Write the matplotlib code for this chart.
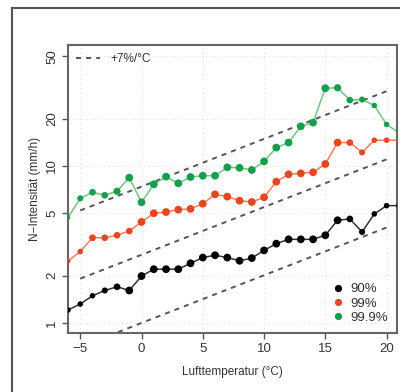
import numpy as np
import matplotlib
matplotlib.use("Agg")
from matplotlib import pyplot as plt
from matplotlib import ticker
from matplotlib.lines import Line2D
from matplotlib.patches import Rectangle

plt.rcParams['font.family'] = ['Liberation Sans', 'DejaVu Sans']

# Data
temp = list(range(-6, 22))
p90 = [1.21, 1.32, 1.49, 1.61, 1.70, 1.61, 1.99, 2.20, 2.20, 2.20, 2.40, 2.61, 2.70, 2.61,
       2.49, 2.59, 2.90, 3.20, 3.41, 3.41, 3.41, 3.62, 4.51, 4.60, 3.80, 4.95, 5.59, 5.59]
p99 = [2.48, 2.85, 3.49, 3.49, 3.62, 3.85, 4.40, 5.00, 5.09, 5.27, 5.33, 5.75, 6.60, 6.38,
       6.01, 5.90, 6.32, 7.94, 8.85, 8.98, 9.12, 10.3, 14.1, 14.1, 12.2, 14.6, 14.6, 14.6]
p999 = [4.69, 6.22, 6.80, 6.51, 6.90, 8.43, 5.87, 7.64, 8.55, 7.76, 8.51, 8.67, 8.67, 9.81,
        9.74, 9.43, 10.7, 13.1, 14.1, 17.9, 18.9, 31.3, 31.5, 26.3, 26.5, 24.3, 18.4, 16.3]
series_labels = ["90%", "99%", "99.9%"]

# Reference lines: +7%/°C, exp(0.07*T + k)
ref_t = [-5, 20]
ref_offsets = [0, 1, 2]
ref_rate = 0.07

yticks = [1, 2, 5, 10, 20, 50]
xticks = [-5, 0, 5, 10, 15, 20]

# Styles
mcol = ["#000000", "#e8461e", "#12a04a"]
lcol = ["#333333", "#f0805a", "#72c482"]
# marker sizes per point (small at the ends)
ms90 = [5, 5, 5, 5.5, 6] + [7] * 18 + [6, 5.5, 5, 5, 5]
ms99 = [4.5, 5, 6, 6, 6, 6] + [7] * 17 + [6, 5.5, 5, 5, 5]
ms999 = [4, 5.5, 6, 6, 6.5] + [7] * 17 + [6.5, 6, 5.5, 5, 5, 4.5]
mscale = 0.8

fig = plt.figure(figsize=(4.0, 3.92), dpi=100)
fig.patches.append(Rectangle((12/400, -0.1), 1.2, 1.1 - 8/392, transform=fig.transFigure,
                             fill=False, edgecolor="#555555", lw=1.5, zorder=0))
ax = fig.add_axes([68/400, 1 - 333/392, (397-68)/400, (333-45)/392])
ax.set_yscale("log")

# grid
for xt in xticks:
    ax.axvline(xt, color="#dddddd", lw=0.8, ls=(0, (1, 3)), zorder=0)
for yt in yticks:
    ax.axhline(yt, color="#dddddd", lw=0.8, ls=(0, (1, 3)), zorder=0)

# dashed reference lines
rt = np.array(ref_t, dtype=float)
for k in ref_offsets:
    ax.plot(rt, np.exp(ref_rate * rt + k), color="#555555", lw=1.4,
            dashes=(2.6, 2.6), zorder=1)

for vals, ms, mc, lc in zip([p90, p99, p999], [ms90, ms99, ms999], mcol, lcol):
    ax.plot(temp, vals, color=lc, lw=1.1, zorder=2)
    ax.scatter(temp, vals, s=(np.array(ms) * mscale) ** 2, color=mc, zorder=3,
               linewidths=0)

ax.set_xlim(-6, 20.85)
ax.set_ylim(0.863, 59)
ax.yaxis.set_major_locator(ticker.FixedLocator(yticks))
ax.yaxis.set_major_formatter(ticker.FixedFormatter([str(v) for v in yticks]))
ax.yaxis.set_minor_locator(ticker.NullLocator())
ax.set_xticks(xticks)
ax.set_xticklabels(["\u22125", "0", "5", "10", "15", "20"])
for lab in ax.get_yticklabels():
    lab.set_rotation(90)
    lab.set_va("center")
ax.tick_params(axis="both", colors="#555555", labelcolor="#333333", length=4,
               width=1, labelsize=9.5, pad=3)

for sp in ax.spines.values():
    sp.set_color("#666666")
    sp.set_linewidth(1.5)

ax.set_xlabel("Lufttemperatur (°C)", fontsize=8.5, color="#333333", labelpad=8)
ax.set_ylabel("N\u2212Intensität (mm/h)", fontsize=8.5, color="#333333", labelpad=4)

# legends
h1 = [Line2D([], [], color="#555555", lw=1.4, dashes=(2.6, 2.6))]
leg1 = ax.legend(h1, ["+7%/°C"], loc="upper left", frameon=False, fontsize=8.5,
                 handlelength=2.0, handletextpad=0.9, borderaxespad=0.3,
                 labelcolor="#333333")
ax.add_artist(leg1)
h2 = [Line2D([], [], ls="none", marker="o", ms=5.2, color=c, mew=0) for c in mcol]
ax.legend(h2, series_labels, loc="lower right", frameon=False, fontsize=9.5,
          handlelength=0.8, handletextpad=0.5, labelspacing=0.15,
          borderaxespad=0.3, labelcolor="#333333")

fig.savefig("out.png", dpi=100)
